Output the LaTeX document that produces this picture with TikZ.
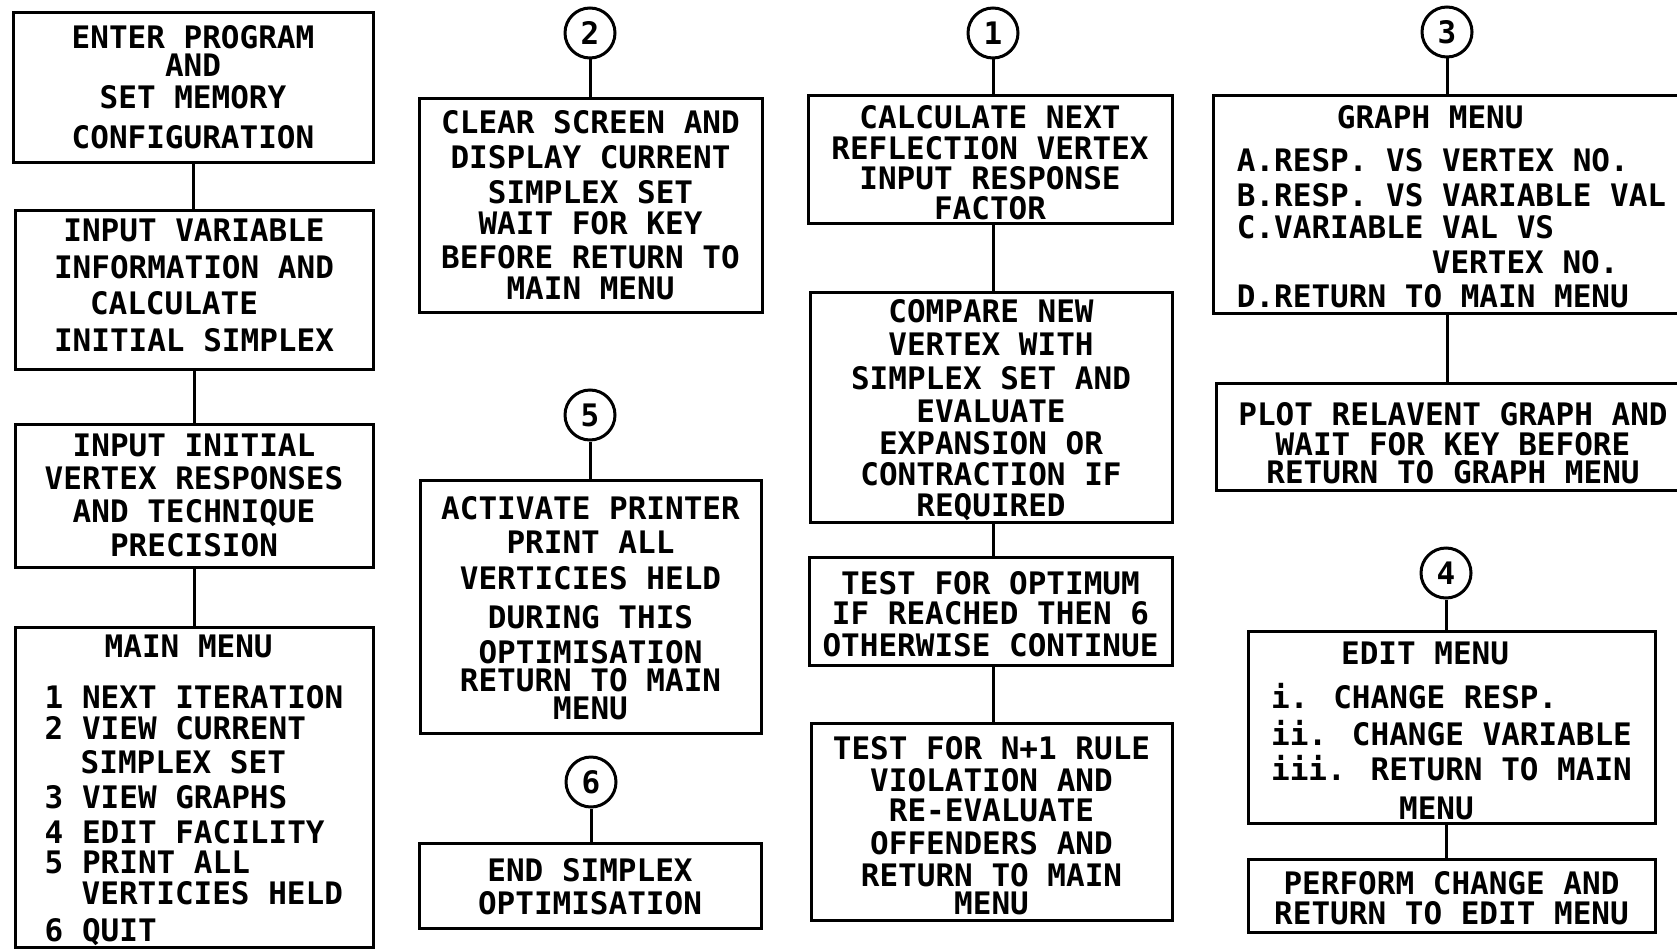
\documentclass[tikz,border=0pt]{standalone}
\usepackage{fontspec}
\newfontfamily\plotfont{DejaVu Sans Mono}
\newcommand\pf{\plotfont\bfseries\fontsize{31}{32}\selectfont}
\newcommand\fstrut[1]{\rule{0pt}{#1pt}}
\newcommand\dstrut[1]{\rule[-#1pt]{0pt}{#1pt}}
\begin{document}
\begin{tikzpicture}[x=1pt,y=-1pt,
  box/.style={draw, line width=3pt, inner sep=0pt, align=center, font=\pf},
  lbox/.style={box, align=left},
  conn/.style={draw, circle, line width=3pt, minimum size=50pt, inner sep=0pt, font=\pf},
  link/.style={line width=3pt}]
\useasboundingbox (0,0) rectangle (1677,950);

% column 1
\node[box, minimum width=360pt, minimum height=149pt] (b1) at (193,87.5)
  {ENTER PROGRAM\\[-4pt]AND\\SET MEMORY\\[8pt]CONFIGURATION};
\node[box, minimum width=358pt, minimum height=159pt] (b2) at (194,289.5)
  {INPUT VARIABLE\\[5pt]INFORMATION AND\\[4pt]\makebox[208pt][l]{CALCULATE}\\[5pt]INITIAL SIMPLEX\dstrut{8}};
\node[box, minimum width=358pt, minimum height=143pt] (b3) at (194,495.5)
  {INPUT INITIAL\\[1pt]VERTEX RESPONSES\\[1pt]AND TECHNIQUE\\[2pt]PRECISION};
\node[lbox, minimum width=358pt, minimum height=320pt] (b4) at (194,787)
  {\fstrut{29}\hspace*{60pt}MAIN MENU\\[19pt]
   1 NEXT ITERATION\\[-1pt]
   2 VIEW CURRENT\\[2pt]
   \hspace*{36pt}SIMPLEX SET\\[3pt]
   3 VIEW GRAPHS\\[3pt]
   4 EDIT FACILITY\\[-2pt]
   5 PRINT ALL\\[-1pt]
   \hspace*{37pt}VERTICIES HELD\\[5pt]
   6 QUIT};
\draw[link] (b1.south) -- (b1.south |- b2.north);
\draw[link] (b2.south) -- (b2.south |- b3.north);
\draw[link] (b3.south) -- (b3.south |- b4.north);

% column 2
\node[conn] (c2) at (590,33) {2};
\node[box, minimum width=343pt, minimum height=214pt] (m2) at (590.5,205)
  {CLEAR SCREEN AND\\[3pt]DISPLAY CURRENT\\[3pt]SIMPLEX SET\\[-1pt]WAIT FOR KEY\\[2pt]BEFORE RETURN TO\\[-1pt]MAIN MENU};
\node[conn] (c5) at (590,415) {5};
\node[box, minimum width=341pt, minimum height=253pt] (m5) at (590.5,606.5)
  {\fstrut{26}ACTIVATE PRINTER\\[2pt]PRINT ALL\\[4pt]VERTICIES HELD\\[7pt]DURING THIS\\[3pt]OPTIMISATION\\[-4pt]RETURN TO MAIN\\[-4pt]MENU};
\node[conn] (c6) at (591,782) {6};
\node[box, minimum width=342pt, minimum height=85pt] (m6) at (590,885.5)
  {\fstrut{26}END SIMPLEX\\[1pt]OPTIMISATION};
\draw[link] (c2.south) -- (c2.south |- m2.north);
\draw[link] (c5.south) -- (c5.south |- m5.north);
\draw[link] (c6.south) -- (c6.south |- m6.north);

% column 3
\node[conn] (c1) at (993,33) {1};
\node[box, minimum width=364pt, minimum height=128pt] (d1) at (990,159)
  {\fstrut{31}CALCULATE NEXT\\[-1pt]REFLECTION VERTEX\\[-2pt]INPUT RESPONSE\\[-2pt]FACTOR};
\node[box, minimum width=362pt, minimum height=230pt] (d2) at (991,407)
  {\fstrut{30}COMPARE NEW\\[1pt]VERTEX WITH\\[2pt]SIMPLEX SET AND\\[1pt]EVALUATE\\[0pt]EXPANSION OR\\[-1pt]CONTRACTION IF\\[-1pt]REQUIRED};
\node[box, minimum width=363pt, minimum height=108pt] (d3) at (990.5,611)
  {\fstrut{29}TEST FOR OPTIMUM\\[-2pt]IF REACHED THEN 6\\OTHERWISE CONTINUE};
\node[box, minimum width=361pt, minimum height=197pt] (d4) at (991.5,821.5)
  {\fstrut{31}TEST FOR N+1 RULE\\VIOLATION AND\\[-2pt]RE-EVALUATE\\[1pt]OFFENDERS AND\\RETURN TO MAIN\\[-4pt]MENU};
\draw[link] (c1.south) -- (c1.south |- d1.north);
\draw[link] (d1.south -| c1) -- (d2.north -| c1);
\draw[link] (d2.south -| c1) -- (d3.north -| c1);
\draw[link] (d3.south -| c1) -- (d4.north -| c1);

% column 4
\node[conn] (c3) at (1447,32) {3};
\node[lbox, minimum width=477pt, minimum height=218pt] (e1) at (1451.5,204)
  {\fstrut{29}\hspace*{100pt}GRAPH MENU\\[11pt]
   A.RESP. VS VERTEX NO.\\[3pt]
   B.RESP. VS VARIABLE VAL\\[0pt]
   C.VARIABLE VAL VS\\[3pt]
   \hspace*{195pt}VERTEX NO.\\[2pt]
   D.RETURN TO MAIN MENU};
\node[box, minimum width=474pt, minimum height=107pt] (e2) at (1453,436.5)
  {\fstrut{37}PLOT RELAVENT GRAPH AND\\[-2pt]WAIT FOR KEY BEFORE\\[-4pt]RETURN TO GRAPH MENU};
\node[conn] (c4) at (1446,573) {4};
\node[lbox, minimum width=407pt, minimum height=192pt] (e3) at (1451.5,727)
  {\fstrut{31}\hspace*{70pt}EDIT MENU\\[12pt]
   i. CHANGE RESP.\\[5pt]
   ii. CHANGE VARIABLE\\[3pt]
   iii. RETURN TO MAIN\\[7pt]
   \hspace*{128pt}MENU};
\node[box, minimum width=407pt, minimum height=73pt] (e4) at (1451.5,895.5)
  {\fstrut{29}PERFORM CHANGE AND\\[-2pt]RETURN TO EDIT MENU};
\draw[link] (c3.south) -- (c3.south |- e1.north);
\draw[link] (e1.south -| c3) -- (e2.north -| c3);
\draw[link] (c4.south) -- (c4.south |- e3.north);
\draw[link] (e3.south -| c4) -- (e4.north -| c4);
\end{tikzpicture}
\end{document}
